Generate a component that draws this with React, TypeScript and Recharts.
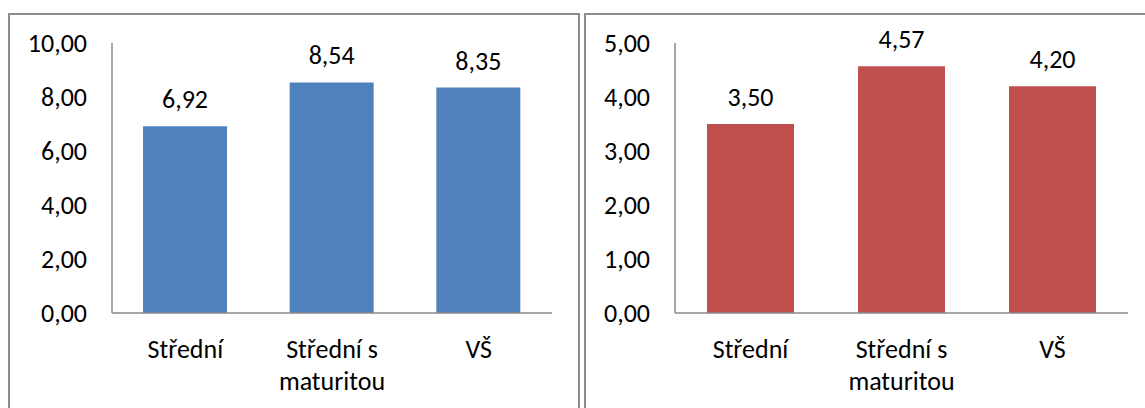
import React from 'react';
import { BarChart, Bar, XAxis, YAxis, LabelList } from 'recharts';

const categories = ['Střední', 'Střední s maturitou', 'VŠ'];
const leftValues = [6.92, 8.54, 8.35];
const rightValues = [3.5, 4.57, 4.2];
const leftTicks = [0, 2, 4, 6, 8, 10];
const rightTicks = [0, 1, 2, 3, 4, 5];

const leftData = categories.map((c, i) => ({ name: c, value: leftValues[i] }));
const rightData = categories.map((c, i) => ({ name: c, value: rightValues[i] }));

const FONT = 'Carlito, Calibri, Lato, sans-serif';
const FS = 26;
const fmt = (v: number) => v.toFixed(2).replace('.', ',');

const splitLabel = (s: string): string[] => {
  if (s.length <= 12) return [s];
  const i = s.lastIndexOf(' ');
  return i > 0 ? [s.slice(0, i), s.slice(i + 1)] : [s];
};

const XTick = (props: any) => {
  const { x, y, payload } = props;
  const lines = splitLabel(String(payload.value));
  return (
    <text
      x={x}
      y={y + 45}
      textAnchor="middle"
      fill="#000"
      style={{ fontFamily: FONT, fontSize: FS }}
    >
      {lines.map((l, i) => (
        <tspan key={i} x={x} dy={i === 0 ? 0 : 32}>
          {l}
        </tspan>
      ))}
    </text>
  );
};

const TopLabel = (props: any) => {
  const { x, y, width, value } = props;
  return (
    <text
      x={x + width / 2}
      y={y - 18}
      textAnchor="middle"
      fill="#000"
      style={{ fontFamily: FONT, fontSize: FS }}
    >
      {fmt(value)}
    </text>
  );
};

const axisStroke = { stroke: '#8a8a8a', strokeWidth: 1.5 };

function Panel(props: {
  data: any[];
  ticks: number[];
  max: number;
  color: string;
  width: number;
  yWidth: number;
  right: number;
  barSize: number;
}) {
  const { data, ticks, max, color, width, yWidth, right, barSize } = props;
  return (
    <BarChart
      width={width}
      height={408}
      data={data}
      margin={{ top: 43, right, bottom: 35, left: 0 }}
    >
      <XAxis
        dataKey="name"
        tickLine={false}
        tickSize={0}
        tickMargin={0}
        axisLine={axisStroke}
        height={60}
        interval={0}
        tick={<XTick />}
      />
      <YAxis
        domain={[0, max]}
        ticks={ticks}
        width={yWidth}
        tickLine={false}
        tickSize={0}
        tickMargin={25}
        axisLine={axisStroke}
        tickFormatter={fmt}
        tick={{ fill: '#000', fontFamily: FONT, fontSize: FS }}
      />
      <Bar dataKey="value" fill={color} barSize={barSize} isAnimationActive={false}>
        <LabelList dataKey="value" content={<TopLabel />} />
      </Bar>
    </BarChart>
  );
}

export default function App() {
  const border = '2px solid #8c8c8c';
  return (
    <div
      style={{
        position: 'absolute',
        left: 0,
        top: 0,
        width: 1145,
        height: 408,
        overflow: 'hidden',
        background: '#fff',
      }}
    >
      <div style={{ position: 'absolute', left: 0, top: 0 }}>
        <Panel
          data={leftData}
          ticks={leftTicks}
          max={10}
          color="#4F81BD"
          width={582}
          yWidth={112}
          right={30}
          barSize={84}
        />
      </div>
      <div style={{ position: 'absolute', left: 582, top: 0 }}>
        <Panel
          data={rightData}
          ticks={rightTicks}
          max={5}
          color="#C0504D"
          width={563}
          yWidth={93}
          right={17}
          barSize={87}
        />
      </div>
      <div
        style={{
          position: 'absolute',
          left: 8,
          top: 13,
          width: 572,
          height: 420,
          borderTop: border,
          borderLeft: border,
          borderRight: border,
          boxSizing: 'border-box',
          pointerEvents: 'none',
        }}
      />
      <div
        style={{
          position: 'absolute',
          left: 584,
          top: 13,
          width: 580,
          height: 420,
          borderTop: border,
          borderLeft: border,
          boxSizing: 'border-box',
          pointerEvents: 'none',
        }}
      />
    </div>
  );
}
